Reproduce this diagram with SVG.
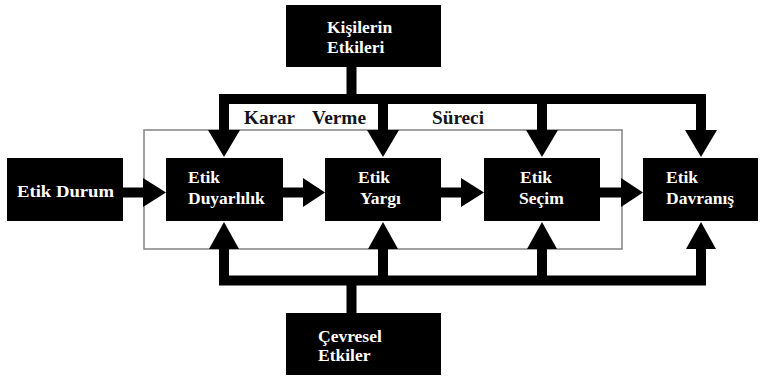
<svg xmlns="http://www.w3.org/2000/svg" width="760" height="377" viewBox="0 0 760 377">
<style>
.box{fill:#000}
.wt{fill:#fff;font-family:"Liberation Serif","Times New Roman",serif;font-weight:bold;font-size:17.5px}
.lbl{fill:#141420;font-family:"Liberation Serif","Times New Roman",serif;font-weight:bold;font-size:18px}
.frame{fill:none;stroke:#8a8a8a;stroke-width:1.6}
.bar{fill:none;stroke:#000;stroke-width:10;stroke-linejoin:miter}
.head{fill:#000}
</style>
<rect width="760" height="377" fill="#fff"/>
<rect id="process-frame" class="frame" x="144" y="130" width="478" height="119"/>
<g id="connectors">
  <path class="bar" d="M224,134 V99 H701 V134 M383,99 V134 M542,99 V134 M351.5,67 V99"/>
  <polygon class="head" points="208,130 240,130 224,157"/>
  <polygon class="head" points="367,130 399,130 383,157"/>
  <polygon class="head" points="526,130 558,130 542,157"/>
  <polygon class="head" points="685,130 717,130 701,157"/>
  <path class="bar" d="M224,246 V280.5 H701 V246 M383,280.5 V246 M542,280.5 V246 M351.5,313 V280.5"/>
  <polygon class="head" points="209,249 239,249 224,222"/>
  <polygon class="head" points="368,249 398,249 383,222"/>
  <polygon class="head" points="527,249 557,249 542,222"/>
  <polygon class="head" points="686,249 716,249 701,222"/>
  <path class="bar" stroke-width="9.5" d="M123,192.5 H145 M283,192.5 H305 M441,192.5 H463 M600,192.5 H622"/>
  <polygon class="head" points="143,178 166,192.5 143,207"/>
  <polygon class="head" points="303,178 325,192.5 303,207"/>
  <polygon class="head" points="461,178 484,192.5 461,207"/>
  <polygon class="head" points="621,178 643,192.5 621,207"/>
</g>
<g id="process-label">
  <text class="lbl" x="244" y="124" textLength="51" lengthAdjust="spacingAndGlyphs">Karar</text>
  <text class="lbl" x="312" y="124" textLength="54" lengthAdjust="spacingAndGlyphs">Verme</text>
  <text class="lbl" x="432" y="124" textLength="52" lengthAdjust="spacingAndGlyphs">Süreci</text>
</g>
<g id="kisilerin-etkileri">
  <rect class="box" x="286" y="5" width="155" height="62"/>
  <text class="wt" x="327" y="33">Kişilerin</text>
  <text class="wt" x="327" y="53">Etkileri</text>
</g>
<g id="cevresel-etkiler">
  <rect class="box" x="286" y="313" width="155" height="62"/>
  <text class="wt" x="318" y="342">Çevresel</text>
  <text class="wt" x="318" y="361">Etkiler</text>
</g>
<g id="etik-durum">
  <rect class="box" x="7" y="158" width="116" height="63"/>
  <text class="wt" x="17" y="197" font-size="18" textLength="97" lengthAdjust="spacingAndGlyphs">Etik Durum</text>
</g>
<g id="etik-duyarlilik">
  <rect class="box" x="166" y="158" width="117" height="63"/>
  <text class="wt" x="188" y="183">Etik</text>
  <text class="wt" x="188" y="204">Duyarlılık</text>
</g>
<g id="etik-yargi">
  <rect class="box" x="325" y="158" width="116" height="63"/>
  <text class="wt" x="358" y="183">Etik</text>
  <text class="wt" x="360" y="204">Yargı</text>
</g>
<g id="etik-secim">
  <rect class="box" x="484" y="158" width="116" height="63"/>
  <text class="wt" x="520" y="183">Etik</text>
  <text class="wt" x="519" y="204">Seçim</text>
</g>
<g id="etik-davranis">
  <rect class="box" x="643" y="158" width="115" height="63"/>
  <text class="wt" x="666" y="183">Etik</text>
  <text class="wt" x="666" y="204">Davranış</text>
</g>
</svg>
